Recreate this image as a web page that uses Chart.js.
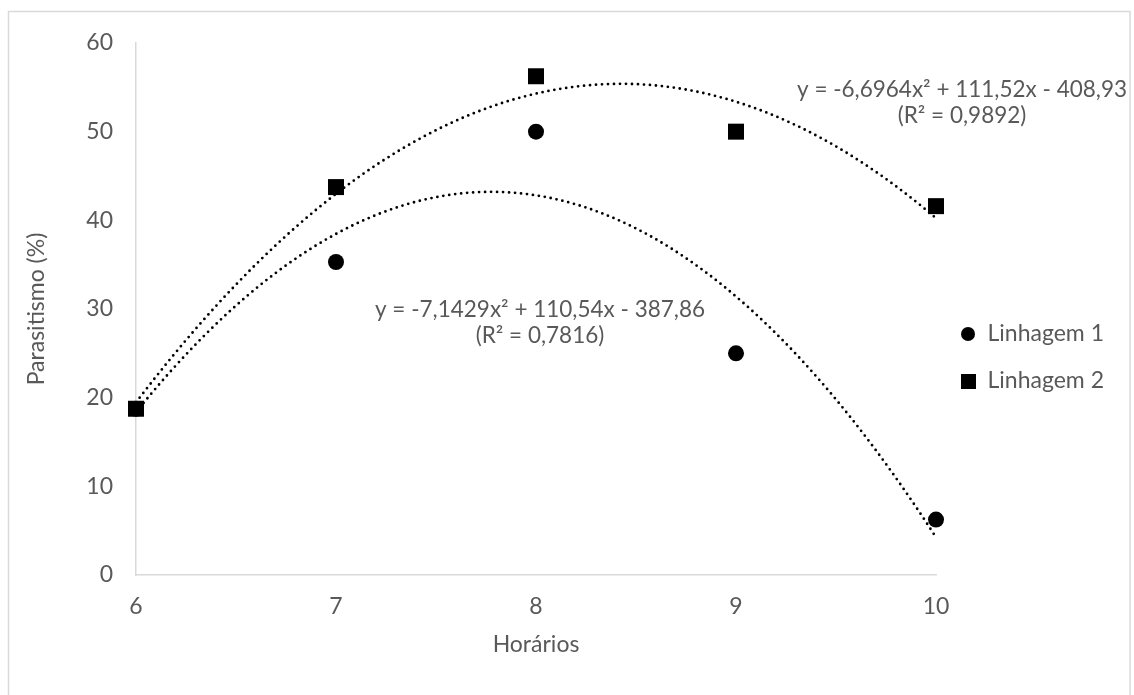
<!DOCTYPE html>
<html>
<head>
<meta charset="utf-8">
<script src="https://cdn.jsdelivr.net/npm/chart.js@4.4.1/dist/chart.umd.min.js"></script>
<style>
  html, body { margin: 0; padding: 0; background: #fff; }
  #wrap { position: absolute; left: 0; top: 0; width: 1134px; height: 695px; }
</style>
</head>
<body>
<div id="wrap"><canvas id="chart" width="1134" height="695"></canvas></div>
<script>
// valores
const horarios = [6, 7, 8, 9, 10];
const linhagem1 = [18.75, 35.3, 50, 25, 6.25];
const linhagem2 = [18.75, 43.75, 56.25, 50, 41.6];
const seriesNames = ['Linhagem 1', 'Linhagem 2'];
const xTicks = [6, 7, 8, 9, 10];
const yTicks = [0, 10, 20, 30, 40, 50, 60];
const eqLinhagem1 = ['y = -7,1429x² + 110,54x - 387,86', '(R² = 0,7816)'];
const eqLinhagem2 = ['y = -6,6964x² + 111,52x - 408,93', '(R² = 0,9892)'];

const FONT = "Lato, 'Open Sans', sans-serif";
const GREY = '#595959';
const AXIS = '#d9d9d9';

// ajuste polinomial de 2a ordem (mínimos quadrados), como a linha de tendência do Excel
function quadFit(xs, ys) {
  let n = xs.length, s1 = 0, s2 = 0, s3 = 0, s4 = 0, t0 = 0, t1 = 0, t2 = 0;
  for (let i = 0; i < n; i++) {
    const x = xs[i], y = ys[i];
    s1 += x; s2 += x * x; s3 += x * x * x; s4 += x * x * x * x;
    t0 += y; t1 += x * y; t2 += x * x * y;
  }
  const det = (m) => m[0][0] * (m[1][1] * m[2][2] - m[1][2] * m[2][1])
    - m[0][1] * (m[1][0] * m[2][2] - m[1][2] * m[2][0])
    + m[0][2] * (m[1][0] * m[2][1] - m[1][1] * m[2][0]);
  const M = [[s4, s3, s2], [s3, s2, s1], [s2, s1, n]];
  const T = [t2, t1, t0];
  const D = det(M);
  const col = (k) => M.map((row, r) => row.map((v, c) => (c === k ? T[r] : v)));
  return [det(col(0)) / D, det(col(1)) / D, det(col(2)) / D];
}

function makeIcon(shape, size) {
  const c = document.createElement('canvas');
  c.width = size; c.height = size;
  const g = c.getContext('2d');
  g.fillStyle = '#000';
  if (shape === 'circle') {
    g.beginPath(); g.arc(size / 2, size / 2, size / 2, 0, Math.PI * 2); g.fill();
  } else {
    g.fillRect(0, 0, size, size);
  }
  return c;
}
const legendIcons = [makeIcon('circle', 14), makeIcon('rect', 15)];

const framePlugin = {
  id: 'frame',
  beforeDraw(chart) {
    const ctx = chart.ctx;
    ctx.save();
    ctx.strokeStyle = AXIS;
    ctx.lineWidth = 1.5;
    ctx.strokeRect(8.5, 11.5, 1121.5, 700);
    ctx.restore();
  }
};

const trendPlugin = {
  id: 'trend',
  beforeDatasetsDraw(chart) {
    const { ctx, scales: { x, y } } = chart;
    chart.data.datasets.forEach((ds) => {
      const c = quadFit(ds.data.map(p => p.x), ds.data.map(p => p.y));
      const x0 = x.getPixelForValue(horarios[0]);
      const x1 = x.getPixelForValue(horarios[horarios.length - 1]);
      ctx.save();
      ctx.beginPath();
      for (let px = x0; px <= x1 + 0.01; px += 1) {
        const v = x.getValueForPixel(px);
        const py = y.getPixelForValue(c[0] * v * v + c[1] * v + c[2]);
        if (px === x0) ctx.moveTo(px, py); else ctx.lineTo(px, py);
      }
      ctx.setLineDash([0, 6]);
      ctx.lineCap = 'round';
      ctx.lineWidth = 2.8;
      ctx.strokeStyle = '#000';
      ctx.stroke();
      ctx.restore();
    });
  }
};

const equationPlugin = {
  id: 'equations',
  afterDraw(chart) {
    const { ctx, scales: { x, y } } = chart;
    const put = (lines, xv, yv) => {
      const px = x.getPixelForValue(xv), py = y.getPixelForValue(yv);
      ctx.save();
      ctx.font = '22.5px ' + FONT;
      ctx.fillStyle = GREY;
      ctx.textAlign = 'center';
      ctx.textBaseline = 'middle';
      lines.forEach((t, i) => ctx.fillText(t, px, py + i * 26));
      ctx.restore();
    };
    put(eqLinhagem1, 8.02, 29.9);
    put(eqLinhagem2, 10.13, 54.7);
  }
};

new Chart(document.getElementById('chart'), {
  type: 'scatter',
  data: {
    datasets: [
      {
        label: seriesNames[0],
        data: horarios.map((h, i) => ({ x: h, y: linhagem1[i] })),
        pointStyle: 'circle',
        pointRadius: 8,
        backgroundColor: '#000',
        borderWidth: 0,
        clip: false,
        order: 1
      },
      {
        label: seriesNames[1],
        data: horarios.map((h, i) => ({ x: h, y: linhagem2[i] })),
        pointStyle: 'rect',
        pointRadius: 11.3,
        backgroundColor: '#000',
        borderWidth: 0,
        clip: false,
        order: 0
      }
    ]
  },
  plugins: [framePlugin, trendPlugin, equationPlugin],
  options: {
    responsive: false,
    animation: false,
    events: [],
    layout: { padding: { top: 43, left: 0, right: 20, bottom: 23 } },
    plugins: {
      tooltip: { enabled: false },
      legend: {
        position: 'right',
        labels: {
          usePointStyle: true,
          pointStyleWidth: 16,
          padding: 24,
          color: GREY,
          font: { family: FONT, size: 23 },
          generateLabels(chart) {
            const items = Chart.defaults.plugins.legend.labels.generateLabels(chart);
            items.forEach(it => { it.pointStyle = legendIcons[it.datasetIndex]; });
            return items.sort((a, b) => a.datasetIndex - b.datasetIndex);
          }
        }
      }
    },
    scales: {
      x: {
        type: 'linear',
        min: xTicks[0],
        max: xTicks[xTicks.length - 1],
        afterBuildTicks(scale) { scale.ticks = xTicks.map(v => ({ value: v })); },
        afterFit(scale) { scale.height = 97; },
        ticks: { color: GREY, padding: 18, font: { family: FONT, size: 23 } },
        grid: { drawOnChartArea: false, drawTicks: false },
        border: { display: true, color: AXIS, width: 1.5 },
        title: {
          display: true, text: 'Horários', color: GREY,
          font: { family: FONT, size: 23 }, padding: { top: 0, bottom: 14 }
        }
      },
      y: {
        min: yTicks[0],
        max: yTicks[yTicks.length - 1],
        afterBuildTicks(scale) { scale.ticks = yTicks.map(v => ({ value: v })); },
        afterFit(scale) { scale.width = 136; },
        ticks: { color: GREY, padding: 23, font: { family: FONT, size: 23 } },
        grid: { drawOnChartArea: false, drawTicks: false },
        border: { display: true, color: AXIS, width: 1.5 },
        title: {
          display: true, text: 'Parasitismo (%)', color: GREY,
          font: { family: FONT, size: 23 }, padding: { top: 23, bottom: 0 }
        }
      }
    }
  }
});
</script>
</body>
</html>
